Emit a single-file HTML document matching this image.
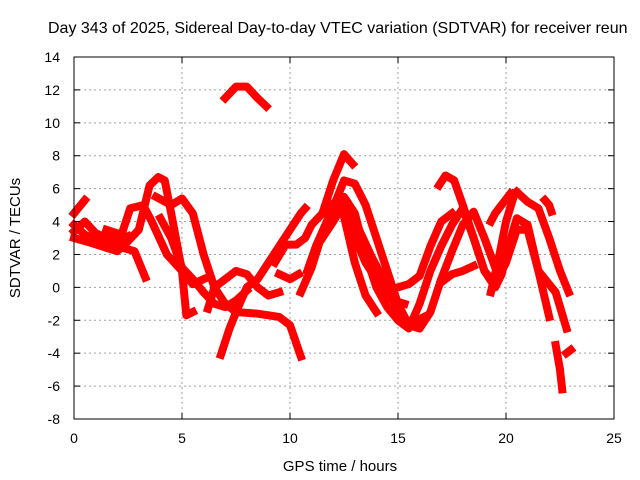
<!DOCTYPE html>
<html><head><meta charset="utf-8"><style>
body{margin:0;background:#fff}
svg{display:block;font-family:"Liberation Sans",sans-serif}
</style></head><body>
<svg id="chart" width="640" height="480">
<text x="48" y="33" font-size="16">Day 343 of 2025, Sidereal Day-to-day VTEC variation (SDTVAR) for receiver reun</text>
<g id="grid"></g><g id="series"></g><g id="axes"></g>
<text x="340" y="471" font-size="15" text-anchor="middle">GPS time / hours</text>
<text x="0" y="0" font-size="15" text-anchor="middle" transform="translate(20,238) rotate(-90)">SDTVAR / TECUs</text>
</svg>
<script>
const xTicks=[0,5,10,15,20,25];
const yTicks=[-8,-6,-4,-2,0,2,4,6,8,10,12,14];
const track1=[[0,3.8],[0.5,3.2],[1.2,2.8],[2,2.5],[2.8,2.2],[3.3,0.6]];
const track2=[[0,4.5],[0.5,5.3]];
const track3=[[0,3],[0.8,2.7],[1.5,2.4],[2,2.2],[2.5,2.8],[3,3.5],[3.5,6.2],[3.9,6.7],[4.2,6.5],[4.5,4.5],[5,1],[5.2,-1.7],[5.5,-1.5]];
const track4=[[1.5,3.5],[2.2,3.2],[2.6,4.8],[3.2,5],[3.6,4],[4.3,2],[5,1],[5.5,0.2],[6,0.5]];
const track5=[[3.8,5.5],[4.5,5],[5,5.4],[5.5,4.5],[6,2],[6.5,0],[7,-1],[7.5,-1.5],[8.5,-1.6],[9.5,-1.8],[10,-2.3],[10.5,-4.2]];
const track6=[[4,4.2],[4.5,3],[5,1.2],[5.5,0.5],[6,-0.3],[6.5,-1],[7,-1.2],[7.5,-0.8],[8,-0.2]];
const track7=[[6.8,-4.1],[7.2,-2.5],[7.6,-1.2],[8,0],[8.5,0.5],[9,1.5],[9.5,2.5],[10.5,4.5],[10.7,4.8]];
const track8=[[6.2,-1.3],[6.5,0],[7,0.5],[7.5,1],[8,0.8],[8.5,0],[9,-0.5],[9.5,-0.3]];
const track9=[[9.3,1.5],[9.8,2.6],[10.3,2.6],[10.7,3],[11,3.8],[11.5,4.5],[12,6.5],[12.5,8.1],[12.9,7.5]];
const track10=[[9.5,0.8],[10,0.5],[10.4,0.8]];
const track11=[[10.8,1],[11.2,2.5],[11.7,4],[12.2,5.5],[12.5,6.5],[13,6.3],[13.5,5],[14,3],[14.5,1],[15,-1],[15.5,-2.3],[16,-2.5],[16.5,-1.5],[17,0.5],[17.5,2.2],[18,3.8],[18.5,4.6],[19,3],[19.5,1.2],[20,2],[20.5,4.2],[21,3.8],[21.5,1],[22,-1.8]];
const track12=[[10.5,-0.3],[11,1.2],[11.5,3.3],[12,4.3],[12.5,5.5],[13,4.5],[13.5,2],[14,0],[14.5,-1.2],[15,-2],[15.5,-2.5],[16,-1],[16.5,1],[17,2.5],[17.5,3.8],[18,4.8],[18.5,3],[19,1],[19.5,0.2],[20,1.5],[20.5,3.5],[21,3.5],[21.5,1],[22.3,-0.3],[22.8,-2.5]];
const track13=[[11.5,3],[12,4],[12.6,5.3],[13,3],[13.5,1.5],[14,0.5],[14.3,-0.5],[14.8,-0.8],[15.3,-1]];
const track14=[[16.9,6.2],[17.2,6.8],[17.6,6.5],[18,5],[18.5,3],[19,1],[19.5,0],[19.8,0.8],[20,2],[20.5,3.5]];
const track15=[[17,0.3],[17.5,0.8],[18,1],[18.5,1.3]];
const track16=[[19.3,-0.3],[19.7,2],[20,4],[20.4,5.7]];
const track17=[[20.5,5.8],[21,5.2],[21.5,4.8],[22,3],[22.5,1],[22.9,-0.3]];
const track18=[[21.8,5.3],[22,5],[22.1,4.6]];
const track19=[[22.3,-3.5],[22.5,-5],[22.6,-6.2]];
const track20=[[22.8,-4],[23,-3.8]];
const track21=[[7,11.5],[7.5,12.2],[8,12.2],[8.5,11.5],[8.9,11]];
const track22=[[12.5,4.3],[13,1.5],[13.5,-0.5],[14,-1.5]];
const track23=[[19.3,4],[19.5,4.5],[20.2,5.7]];
const track24=[[15,0],[15.5,0.2],[16,0.7],[16.5,2.5],[17,4],[17.5,4.5]];
const track25=[[0,3.4],[0.5,4],[1,3.3],[1.5,3],[2,2.8],[2.5,3.1]];
const track26=[[12,5],[12.7,4.6],[13.2,3.5],[13.8,1.8],[14.4,0.3],[15,-1.5],[15.6,-2.2],[16.2,-1.8]];
const tracks=[track1,track2,track3,track4,track5,track6,track7,track8,track9,track10,track11,track12,track13,track14,track15,track16,track17,track18,track19,track20,track21,track22,track23,track24,track25,track26];

const X0=74,X1=614,Y0=419,Y1=57;
const xs=v=>X0+(v-0)/(25-0)*(X1-X0);
const ys=v=>Y0-(v+8)/(22)*(Y0-Y1);
const NS="http://www.w3.org/2000/svg";
const grid=document.getElementById('grid'),axes=document.getElementById('axes'),ser=document.getElementById('series');
function mk(tag,attrs,parent){const e=document.createElementNS(NS,tag);for(const k in attrs)e.setAttribute(k,attrs[k]);parent.appendChild(e);return e;}
xTicks.forEach(t=>{
  const x=xs(t);
  if(t>0&&t<25){const g=mk('line',{x1:x,x2:x,y1:Y0,y2:Y1,stroke:'#a0a0a0','stroke-dasharray':'2,3'},grid);
  
  }
  mk('line',{x1:x,x2:x,y1:Y0,y2:Y0-6,stroke:'#000'},axes);
  mk('line',{x1:x,x2:x,y1:Y1,y2:Y1+6,stroke:'#000'},axes);
  const l=mk('text',{x:x,y:Y0+24,'font-size':14,'text-anchor':'middle'},axes);l.textContent=t;
  
  
});
yTicks.forEach(t=>{
  const y=ys(t);
  if(t>-8&&t<14){const g=mk('line',{x1:X0,x2:X1,y1:y,y2:y,stroke:'#a0a0a0','stroke-dasharray':'2,3'},grid);
  
  }
  mk('line',{x1:X0,x2:X0+6,y1:y,y2:y,stroke:'#000'},axes);
  mk('line',{x1:X1,x2:X1-6,y1:y,y2:y,stroke:'#000'},axes);
  const l=mk('text',{x:X0-14,y:y+5,'font-size':14,'text-anchor':'end'},axes);l.textContent=t;
  
  
});
const fr=mk('rect',{x:X0,y:Y1,width:X1-X0,height:Y0-Y1,fill:'none',stroke:'#000'},axes);


tracks.forEach(tr=>{
  const p=mk('polyline',{points:tr.map(d=>xs(d[0])+','+ys(d[1])).join(' '),fill:'none',stroke:'#ff0000','stroke-width':8,'stroke-linejoin':'round','stroke-linecap':'square'},ser);
  
  
});
</script>
</body></html>
